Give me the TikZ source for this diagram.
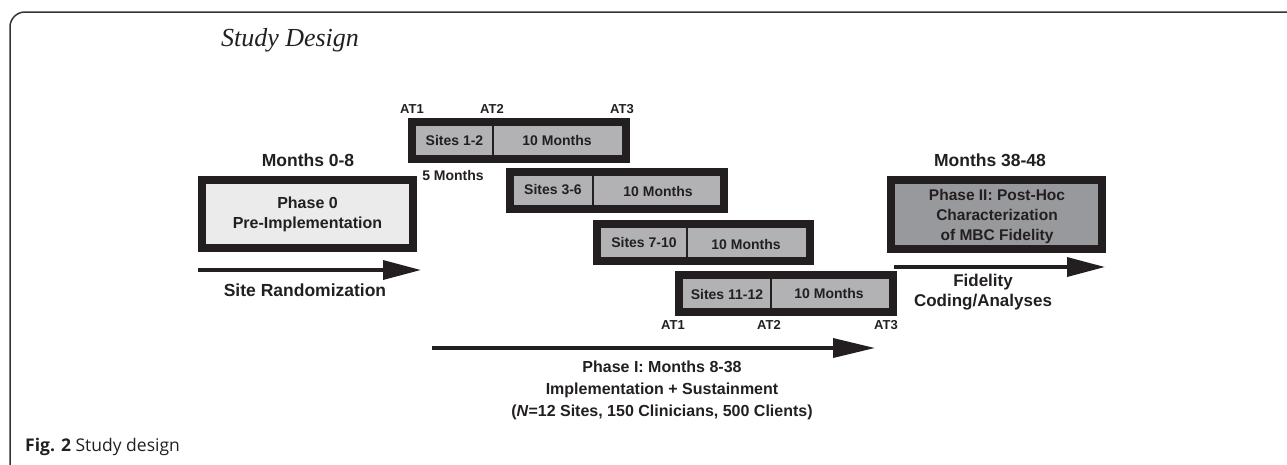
\documentclass[tikz,border=0pt]{standalone}
\usepackage{fontspec}
\setmainfont{Liberation Sans}
\newfontfamily\titlefont{Liberation Serif}
\newfontfamily\capfont{Open Sans}
\usetikzlibrary{arrows.meta}
\definecolor{ink}{HTML}{231F20}
\definecolor{lightbox}{HTML}{EBEBEB}
\definecolor{sitebox}{HTML}{B2B2B4}
\definecolor{darkbox}{HTML}{98999D}
\definecolor{framecol}{HTML}{333333}
\begin{document}
\begin{tikzpicture}[x=1pt,y=-1pt,
  txt/.style={font=\bfseries\fontsize{#1}{20}\selectfont, text=ink, inner sep=0pt, align=center},
  txt/.default=17.5,
  phasebox/.style={draw=ink, line width=8pt, fill=#1, inner sep=0pt},
  sitesbox/.style={draw=ink, line width=8pt, fill=sitebox, inner sep=0pt, minimum width=214pt, minimum height=37pt},
  divider/.style={draw=ink, line width=1.5pt},
  bigarrow/.style={draw=ink, line width=3.5pt, -{Triangle[length=38pt,width=19pt]}},
]
\useasboundingbox (0,0) rectangle (1287,464);
% frame
\draw[framecol, line width=1.5pt, rounded corners=15pt] (10,470) -- (10,12) -- (1300,12);
% title
\node[font=\titlefont\itshape\fontsize{26}{30}\selectfont, text=ink, inner sep=0pt] (title) at (290,40) {Study Design};

% Phase 0
\node[txt] (m08) at (308,160) {Months 0-8};
\node[phasebox=lightbox, minimum width=211pt, minimum height=68pt] (p0) at (307.5,214) {};
\node[txt=16] (p0t) at (p0.center) {Phase 0\\Pre-Implementation};
\coordinate (sr1) at (198,270);
\coordinate (sr2) at (421,270);
\draw[bigarrow] (sr1) -- (sr2);
\node[txt] (srt) at (305,290) {Site Randomization};

% Sites boxes
\node[sitesbox] (s1) at (519,140.5) {};
\node[sitesbox] (s2) at (617,190.5) {};
\node[sitesbox, minimum width=213pt] (s3) at (703.5,242) {};
\node[sitesbox] (s4) at (786,293) {};
\coordinate (d1a) at (493,126); \coordinate (d1b) at (493,155);
\coordinate (d2a) at (593,176); \coordinate (d2b) at (593,205);
\coordinate (d3a) at (687,227); \coordinate (d3b) at (687,257);
\coordinate (d4a) at (771,278); \coordinate (d4b) at (771,308);
\draw[divider] (d1a) -- (d1b);
\draw[divider] (d2a) -- (d2b);
\draw[divider] (d3a) -- (d3b);
\draw[divider] (d4a) -- (d4b);
\node[txt=14] (s1a) at (454.5,140) {Sites 1-2};
\node[txt=14] (s1b) at (557,140) {10 Months};
\node[txt=14] (s2a) at (553,190) {Sites 3-6};
\node[txt=14] (s2b) at (658,191) {10 Months};
\node[txt=14] (s3a) at (644,242) {Sites 7-10};
\node[txt=14] (s3b) at (746,244) {10 Months};
\node[txt=14] (s4a) at (727,294) {Sites 11-12};
\node[txt=14] (s4b) at (829,293) {10 Months};

% AT labels
\node[txt=13] (at1t) at (412,109) {AT1};
\node[txt=13] (at2t) at (492,109) {AT2};
\node[txt=13] (at3t) at (622,109) {AT3};
\node[txt=14] (fivem) at (453,175) {5 Months};
\node[txt=13] (at1b) at (673,325) {AT1};
\node[txt=13] (at2b) at (769,325) {AT2};
\node[txt=13] (at3b) at (886,325) {AT3};

% Phase I arrow
\coordinate (p1a) at (432,348);
\coordinate (p1b) at (875,348);
\draw[bigarrow, -{Triangle[length=42pt,width=19pt]}] (p1a) -- (p1b);
\node[txt=16, font=\bfseries\fontsize{16}{22}\selectfont] (p1t) at (662,390) {Phase I: Months 8-38\\Implementation + Sustainment\\(\textit{N}=12 Sites, 150 Clinicians, 500 Clients)};

% Phase II
\node[txt] (m3848) at (990,160) {Months 38-48};
\node[phasebox=darkbox, minimum width=211pt, minimum height=69pt] (p2) at (996.5,214.5) {};
\node[txt=15.5, font=\bfseries\fontsize{15.5}{20}\selectfont] (p2t) at (997,216) {Phase II: Post-Hoc\\Characterization\\of MBC Fidelity};
\coordinate (fa) at (894,267);
\coordinate (fb) at (1105,267);
\draw[bigarrow] (fa) -- (fb);
\node[txt=17] (ft) at (983,292) {Fidelity\\Coding/Analyses};

% caption
\node[anchor=west, font=\capfont\fontsize{17.5}{20}\selectfont, text=ink, inner sep=0pt] (cap) at (25,447) {\textbf{Fig. 2} Study design};
\end{tikzpicture}
\end{document}
